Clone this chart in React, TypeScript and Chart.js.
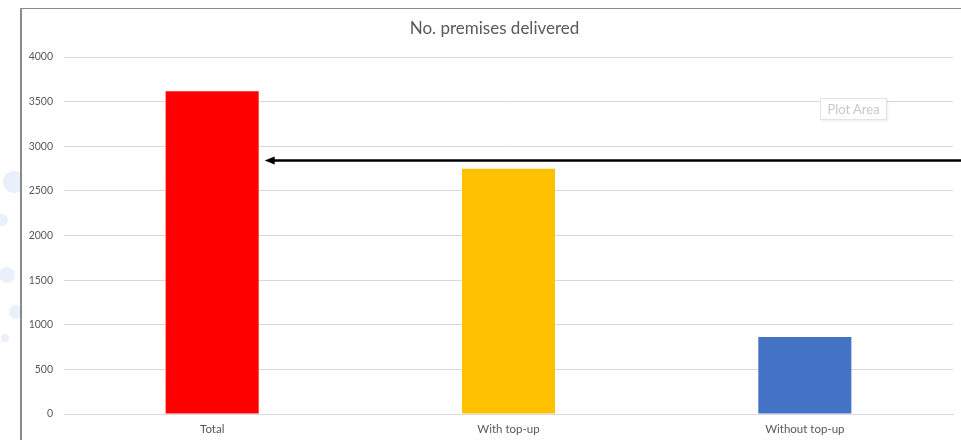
import React, { useEffect, useRef } from "react";
import { Chart, registerables } from "chart.js";

Chart.register(...registerables);

const categories = ["Total", "With top-up", "Without top-up"];
const premisesDelivered = [3615, 2748, 862];
const barColors = ["#FF0000", "#FFC000", "#4472C4"];
const yTicks = [0, 500, 1000, 1500, 2000, 2500, 3000, 3500, 4000];
const arrowValue = 2850;
const chartTitle = "No. premises delivered";

const FONT = "Lato, 'Open Sans', sans-serif";

const bubbles = [
  { x: 14, y: 182, r: 11 },
  { x: 2, y: 220, r: 6 },
  { x: 7, y: 275, r: 8 },
  { x: 16, y: 312, r: 7 },
  { x: 5, y: 338, r: 4 },
];

const titlePlugin = {
  id: "frameTitle",
  afterDraw(chart: any) {
    const ctx = chart.ctx;
    ctx.save();
    ctx.fillStyle = "#595959";
    ctx.font = `17px ${FONT}`;
    ctx.textAlign = "center";
    ctx.textBaseline = "middle";
    // centred in the chart frame (frame starts 20px in from the left)
    ctx.fillText(chartTitle, (20 + chart.width + 8) / 2, 29);
    ctx.restore();
  },
};

const arrowPlugin = {
  id: "arrowPlugin",
  afterDatasetsDraw(chart: any) {
    const meta = chart.getDatasetMeta(0);
    const bar = meta.data[0];
    if (!bar) return;
    const props = bar.getProps(["x", "width"], true);
    const yScale = chart.scales.y;
    const y = Math.round(yScale.getPixelForValue(arrowValue)) + 0.5;
    const tipX = props.x + props.width / 2 + 6;
    const endX = chart.width;
    const ctx = chart.ctx;
    ctx.save();
    ctx.strokeStyle = "#000";
    ctx.fillStyle = "#000";
    ctx.lineWidth = 2.5;
    ctx.beginPath();
    ctx.moveTo(endX, y);
    ctx.lineTo(tipX + 8, y);
    ctx.stroke();
    ctx.beginPath();
    ctx.moveTo(tipX, y);
    ctx.lineTo(tipX + 10, y - 4);
    ctx.lineTo(tipX + 10, y + 4);
    ctx.closePath();
    ctx.fill();
    ctx.restore();
  },
};

export default function App() {
  const canvasRef = useRef<HTMLCanvasElement | null>(null);

  useEffect(() => {
    document.body.style.margin = "0";
    const canvas = canvasRef.current;
    if (!canvas) return;
    const chart = new Chart(canvas, {
      type: "bar",
      data: {
        labels: categories,
        datasets: [
          {
            data: premisesDelivered,
            backgroundColor: barColors,
            borderWidth: 0,
            barPercentage: 1,
            categoryPercentage: 0.314,
          },
        ],
      },
      options: {
        responsive: false,
        animation: false,
        maintainAspectRatio: false,
        layout: { padding: { top: 57, right: 8, bottom: 0, left: 0 } },
        plugins: {
          legend: { display: false },
          tooltip: { enabled: false },
          title: { display: false },
        },
        scales: {
          x: {
            grid: { display: false, drawTicks: false },
            border: { display: true, color: "#d9d9d9", width: 1 },
            ticks: {
              color: "#595959",
              font: { family: FONT, size: 11.5 },
              padding: 8,
            },
            afterFit(scale: any) {
              scale.height = 26;
            },
          },
          y: {
            min: 0,
            max: 4000,
            afterBuildTicks(scale: any) {
              scale.ticks = yTicks.map((v) => ({ value: v }));
            },
            grid: { color: "#d9d9d9", lineWidth: 1, drawTicks: false },
            border: { display: false },
            ticks: {
              color: "#595959",
              font: { family: FONT, size: 10.5 },
              padding: 11,
              callback: (v: any) => String(v),
            },
            afterFit(scale: any) {
              scale.width = 64;
            },
          },
        },
      },
      plugins: [arrowPlugin, titlePlugin],
    });
    return () => chart.destroy();
  }, []);

  return (
    <div
      style={{
        position: "relative",
        width: 961,
        height: 440,
        overflow: "hidden",
        background: "#fff",
      }}
    >
      {bubbles.map((b, i) => (
        <div
          key={i}
          style={{
            position: "absolute",
            left: b.x - b.r,
            top: b.y - b.r,
            width: b.r * 2,
            height: b.r * 2,
            borderRadius: "50%",
            background: "#e9f0fb",
          }}
        />
      ))}
      <div
        style={{
          position: "absolute",
          left: 20,
          top: 8,
          width: 1000,
          height: 500,
          borderLeft: "2px solid #8a8a8a",
          borderTop: "1px solid #8a8a8a",
          background: "#fff",
        }}
      />
      <canvas
        ref={canvasRef}
        width={961}
        height={440}
        style={{ position: "absolute", left: 0, top: 0, width: 961, height: 440 }}
      />
      <div
        style={{
          position: "absolute",
          left: 820,
          top: 98,
          width: 67,
          height: 22,
          boxSizing: "border-box",
          border: "1px solid #e4e4e4",
          boxShadow: "1px 1px 2px rgba(0,0,0,0.08)",
          background: "#fff",
          color: "#c8c8c8",
          fontFamily: FONT,
          fontSize: 13,
          lineHeight: "20px",
          textAlign: "center",
        }}
      >
        Plot Area
      </div>
    </div>
  );
}
